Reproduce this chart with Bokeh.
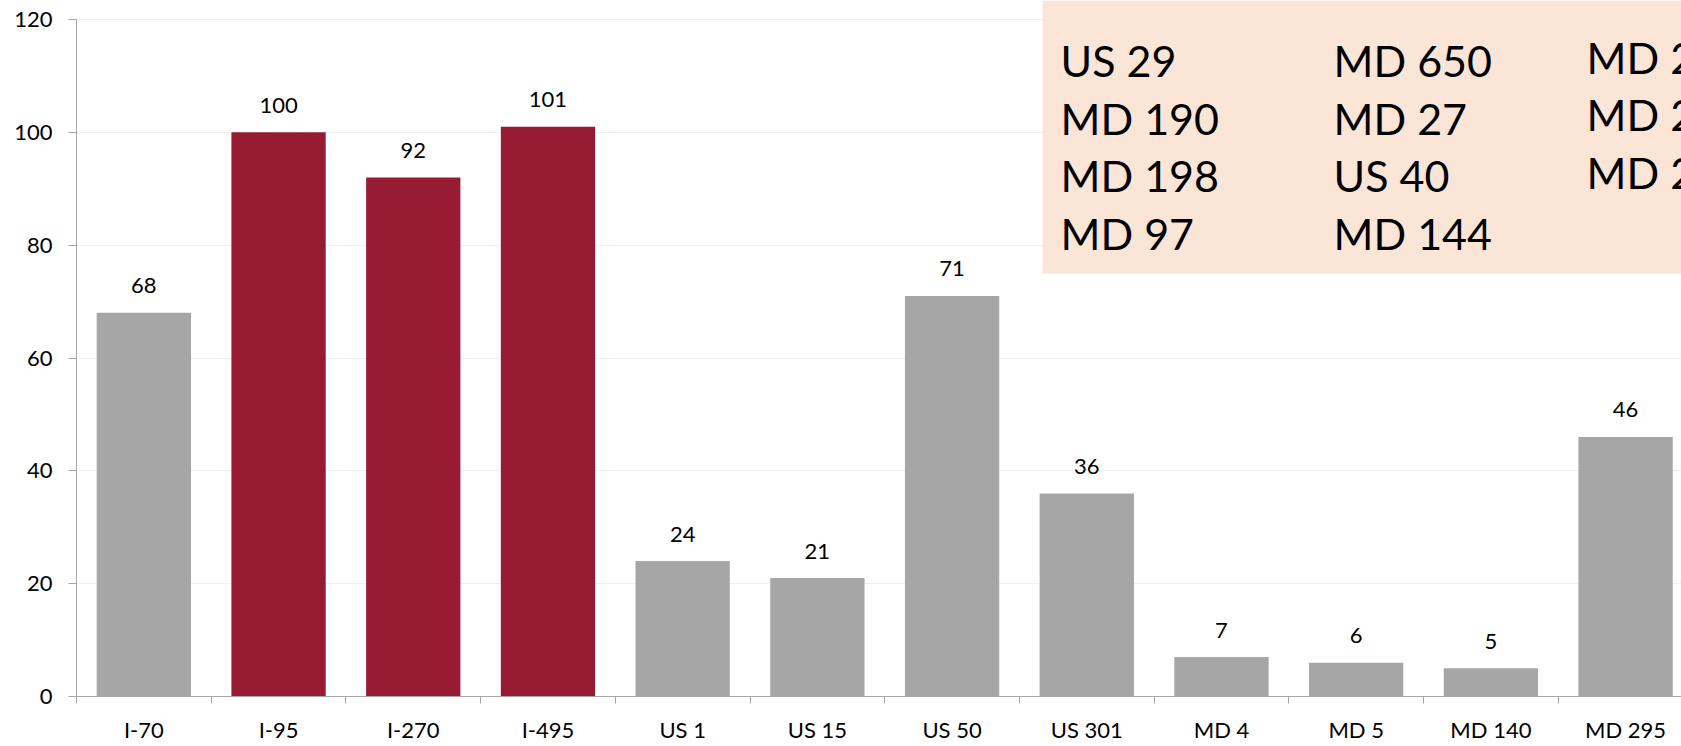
from bokeh.plotting import figure
from bokeh.models import ColumnDataSource, Range1d, FixedTicker, LinearAxis, BoxAnnotation
from bokeh.core.properties import value
from bokeh.embed import file_html
from bokeh.resources import INLINE

# ---- data ----
categories = ["I-70", "I-95", "I-270", "I-495", "US 1", "US 15", "US 50", "US 301",
              "MD 4", "MD 5", "MD 140", "MD 295"]
counts = [68, 100, 92, 101, 24, 21, 71, 36, 7, 6, 5, 46]
highlighted = ["I-95", "I-270", "I-495"]
y_ticks = [0, 20, 40, 60, 80, 100, 120]

legend_col1 = ["US 29", "MD 190", "MD 198", "MD 97"]
legend_col2 = ["MD 650", "MD 27", "US 40", "MD 144"]
legend_col3 = ["MD 200", "MD 210", "MD 214"]

# ---- style ----
FONT = "Lato"
GRAY = "#A6A6A6"
RED = "#961B33"
BOX = "#FBE5D6"

W, H = 1681, 746
LEFT, BOTTOM = 76, 50
X_END = 11.915
Y_END = 123.37

centers = [i + 0.5 for i in range(len(categories))]
colors = [RED if c in highlighted else GRAY for c in categories]
src = ColumnDataSource(dict(x=centers, top=counts, color=colors,
                            label=[str(v) for v in counts]))

p = figure(width=W, height=H, output_backend="svg", toolbar_location=None,
           x_range=Range1d(0, X_END), y_range=Range1d(0, Y_END),
           min_border_left=LEFT, min_border_right=0, min_border_top=0,
           min_border_bottom=BOTTOM, x_axis_type=None)
p.outline_line_color = None
p.background_fill_color = "white"
p.border_fill_color = "white"

# y axis
ya = p.yaxis[0]
ya.ticker = FixedTicker(ticks=y_ticks)
ya.bounds = (0, 120)
ya.major_tick_out = 8
ya.major_tick_in = 0
ya.minor_tick_out = 0
ya.minor_tick_in = 0
ya.axis_line_color = GRAY
ya.major_tick_line_color = GRAY
ya.major_label_text_font = FONT
ya.major_label_text_font_size = "22px"
ya.major_label_text_color = "black"
ya.major_label_standoff = 16

p.ygrid.ticker = FixedTicker(ticks=y_ticks)
p.ygrid.grid_line_color = "#EFEFEF"
p.xgrid.grid_line_color = None

# x axis: labels at centres, tick marks at category boundaries
xa = LinearAxis(ticker=FixedTicker(ticks=centers, minor_ticks=list(range(len(categories) + 1))))
xa.major_label_overrides = {c: name for c, name in zip(centers, categories)}
xa.major_tick_out = 0
xa.major_tick_in = 0
xa.minor_tick_out = 7
xa.minor_tick_in = 0
xa.minor_tick_line_color = GRAY
xa.axis_line_color = GRAY
xa.major_label_text_font = FONT
xa.major_label_text_font_size = "22px"
xa.major_label_text_color = "black"
xa.major_label_standoff = 12
p.add_layout(xa, "below")

# bars
p.vbar(x="x", top="top", bottom=0, width=0.70, fill_color="color", line_color=None, source=src)
p.text(x="x", y="top", text="label", source=src, text_align="center",
       text_baseline="alphabetic", y_offset=-27, text_font=value(FONT),
       text_font_size="22px", text_color="black")

# legend-like box of other routes
PX_PER_CAT = 134.7
PX_PER_UNIT = 5.642
X0_IMG, Y0_IMG = 76, 696
def px_x(px):
    return (px - X0_IMG) / PX_PER_CAT
def px_y(py):
    return (Y0_IMG - py) / PX_PER_UNIT

p.add_layout(BoxAnnotation(left=px_x(1042), bottom=px_y(273), fill_color=BOX,
                           fill_alpha=1.0, line_color=None, level="underlay"))

col_specs = [(legend_col1, 1060, [75, 133, 190, 248]),
             (legend_col2, 1333, [75, 133, 190, 248]),
             (legend_col3, 1586, [72, 129, 187])]
for texts, xpx, ys in col_specs:
    n = len(texts)
    p.text(x=[px_x(xpx)] * n, y=[px_y(v) for v in ys[:n]], text=texts,
           text_align="left", text_baseline="alphabetic", y_offset=-15,
           text_font=value(FONT), text_font_size="43px", text_color="black")

open("out.html", "w").write(file_html(p, INLINE))
